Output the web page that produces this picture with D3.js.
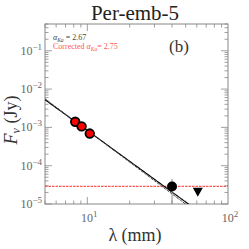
<!DOCTYPE html>
<html>
<head>
<meta charset="utf-8">
<script src="https://cdn.jsdelivr.net/npm/d3@7"></script>
<style>
  body { margin: 0; background: #fff; }
</style>
</head>
<body>
<svg id="chart" width="249" height="249"></svg>
<script>
// data
const title = "Per-emb-5";
const kaWave = [8.2, 9.1, 10.4];          // mm
const kaFlux = [1.4e-3, 1.06e-3, 6.9e-4];  // Jy
const cWave = [40];
const cFlux = [2.85e-5];
const cErrLo = [1.0e-5];
const cErrHi = [4.5e-5];
const limWave = [61];
const limFlux = [2.1e-5];
const freeFree = 2.9e-5;
const alphaKa = 2.67;
const alphaCorr = 2.75;
const fitNorm = 8.3e-4; // flux at 10 mm
const yTicks = [1e-5, 1e-4, 1e-3, 1e-2, 1e-1];
const xTicks = [10, 100];

const svg = d3.select("#chart");
const m = { left: 45, right: 228, top: 24, bottom: 204 };

const x = d3.scaleLog().domain([5, 100]).range([m.left, m.right]);
const y = d3.scaleLog().domain([1e-5, 0.5]).range([m.bottom, m.top]);

const grey = "#888";
const serif = "'Liberation Serif', 'DejaVu Serif', serif";

// minor ticks
const xMinor = [];
for (let d = 1; d <= 10; d *= 10) for (let k = 1; k <= 9; k++) { const v = k * d; if (v >= 5 && v <= 100) xMinor.push(v); }
const yMinor = [];
for (let e = -5; e <= -1; e++) for (let k = 1; k <= 9; k++) { const v = k * Math.pow(10, e); if (v >= 1e-5 && v <= 0.5) yMinor.push(v); }

const ticks = svg.append("g").attr("stroke", grey).attr("stroke-width", 0.8);
xMinor.forEach(v => {
  const big = xTicks.includes(v);
  const L = big ? 7 : 3.5;
  ticks.append("line").attr("x1", x(v)).attr("x2", x(v)).attr("y1", m.bottom).attr("y2", m.bottom - L);
  ticks.append("line").attr("x1", x(v)).attr("x2", x(v)).attr("y1", m.top).attr("y2", m.top + L);
});
yMinor.forEach(v => {
  const big = yTicks.some(t => Math.abs(t - v) / t < 1e-6);
  const L = big ? 7 : 3.5;
  ticks.append("line").attr("y1", y(v)).attr("y2", y(v)).attr("x1", m.left).attr("x2", m.left + L);
  ticks.append("line").attr("y1", y(v)).attr("y2", y(v)).attr("x1", m.right).attr("x2", m.right - L);
});

svg.append("rect").attr("x", m.left).attr("y", m.top)
  .attr("width", m.right - m.left).attr("height", m.bottom - m.top)
  .attr("fill", "none").attr("stroke", grey).attr("stroke-width", 1);

// tick labels
yTicks.forEach(t => {
  const e = Math.round(Math.log10(t));
  const tx = svg.append("text").attr("x", m.left - 3).attr("y", y(t) + 4)
    .attr("text-anchor", "end").style("font-family", serif).attr("font-size", 12).attr("fill", "#666");
  tx.append("tspan").text("10");
  tx.append("tspan").attr("dy", -5).attr("font-size", 9).text("\u2212" + Math.abs(e));
});
xTicks.forEach(t => {
  const e = Math.round(Math.log10(t));
  const tx = svg.append("text").attr("x", x(t) + 2).attr("y", m.bottom + 18)
    .attr("text-anchor", "middle").style("font-family", serif).attr("font-size", 12).attr("fill", "#666");
  tx.append("tspan").text("10");
  tx.append("tspan").attr("dy", -5).attr("font-size", 9).text(e);
});

const plot = svg.append("g");
svg.append("clipPath").attr("id", "clip").append("rect")
  .attr("x", m.left).attr("y", m.top).attr("width", m.right - m.left).attr("height", m.bottom - m.top);
plot.attr("clip-path", "url(#clip)");

// free-free level
plot.append("line").attr("x1", m.left).attr("x2", m.right)
  .attr("y1", y(freeFree)).attr("y2", y(freeFree))
  .attr("stroke", "#f55").attr("stroke-width", 1.2).attr("stroke-dasharray", "2.5,1");

// fits
const lam = d3.range(0, 101).map(i => 5 * Math.pow(20, i / 100));
const line = d3.line().x(d => x(d[0])).y(d => y(d[1]));
plot.append("path").attr("d", line(lam.map(l => [l, fitNorm * Math.pow(l / 10, -alphaKa)])))
  .attr("fill", "none").attr("stroke", "#000").attr("stroke-width", 1.1);
plot.append("path").attr("d", line(lam.map(l => [l, fitNorm * Math.pow(l / 10, -alphaCorr)])))
  .attr("fill", "none").attr("stroke", "#444").attr("stroke-width", 1).attr("stroke-dasharray", "3,1");

// error bar
cWave.forEach((w, i) => {
  plot.append("line").attr("x1", x(w)).attr("x2", x(w))
    .attr("y1", y(cErrLo[i])).attr("y2", y(cErrHi[i]))
    .attr("stroke", grey).attr("stroke-width", 1);
});

// points
kaWave.forEach((w, i) => {
  plot.append("circle").attr("cx", x(w)).attr("cy", y(kaFlux[i])).attr("r", 4.3)
    .attr("fill", "#f00").attr("stroke", "#000").attr("stroke-width", 1.8);
});
cWave.forEach((w, i) => {
  plot.append("circle").attr("cx", x(w)).attr("cy", y(cFlux[i])).attr("r", 5)
    .attr("fill", "#000");
});
limWave.forEach((w, i) => {
  const cx = x(w), cy = y(limFlux[i]);
  plot.append("path").attr("d", `M${cx - 5},${cy - 4}L${cx + 5},${cy - 4}L${cx},${cy + 5}Z`).attr("fill", "#000");
});

// texts
svg.append("text").attr("x", 135).attr("y", 20).attr("text-anchor", "middle").style("font-family", serif)
  .attr("font-size", 21).attr("fill", "#222").text(title);

const t1 = svg.append("text").attr("x", 53).attr("y", 40).style("font-family", serif).attr("font-size", 8).attr("fill", "#444");
t1.append("tspan").attr("font-style", "italic").text("\u03b1");
t1.append("tspan").attr("font-size", 5.5).attr("dy", 1.5).attr("font-style", "italic").text("Ka");
t1.append("tspan").attr("dy", -1.5).text(" = " + alphaKa.toFixed(2));

const t2 = svg.append("text").attr("x", 53).attr("y", 49).style("font-family", serif).attr("font-size", 8).attr("fill", "#f55");
t2.append("tspan").text("Corrected ");
t2.append("tspan").attr("font-style", "italic").text("\u03b1");
t2.append("tspan").attr("font-size", 5.5).attr("dy", 1.5).attr("font-style", "italic").text("Ka");
t2.append("tspan").attr("dy", -1.5).text("= " + alphaCorr.toFixed(2));

svg.append("text").attr("x", 179).attr("y", 52).attr("text-anchor", "middle").style("font-family", serif)
  .attr("font-size", 17).attr("fill", "#333").text("(b)");

const yl = svg.append("text").attr("transform", "translate(17,120) rotate(-90)").style("font-family", serif)
  .attr("text-anchor", "middle").attr("font-size", 18).attr("fill", "#333");
yl.append("tspan").attr("font-style", "italic").text("F");
yl.append("tspan").attr("font-style", "italic").attr("font-size", 12).attr("dy", 3).text("\u03bd");
yl.append("tspan").attr("dy", -3).text("\u00a0(Jy)");

svg.append("text").attr("x", 135).attr("y", 241).attr("text-anchor", "middle").style("font-family", serif)
  .attr("font-size", 18).attr("fill", "#333").text("\u03bb (mm)");
</script>
</body>
</html>
